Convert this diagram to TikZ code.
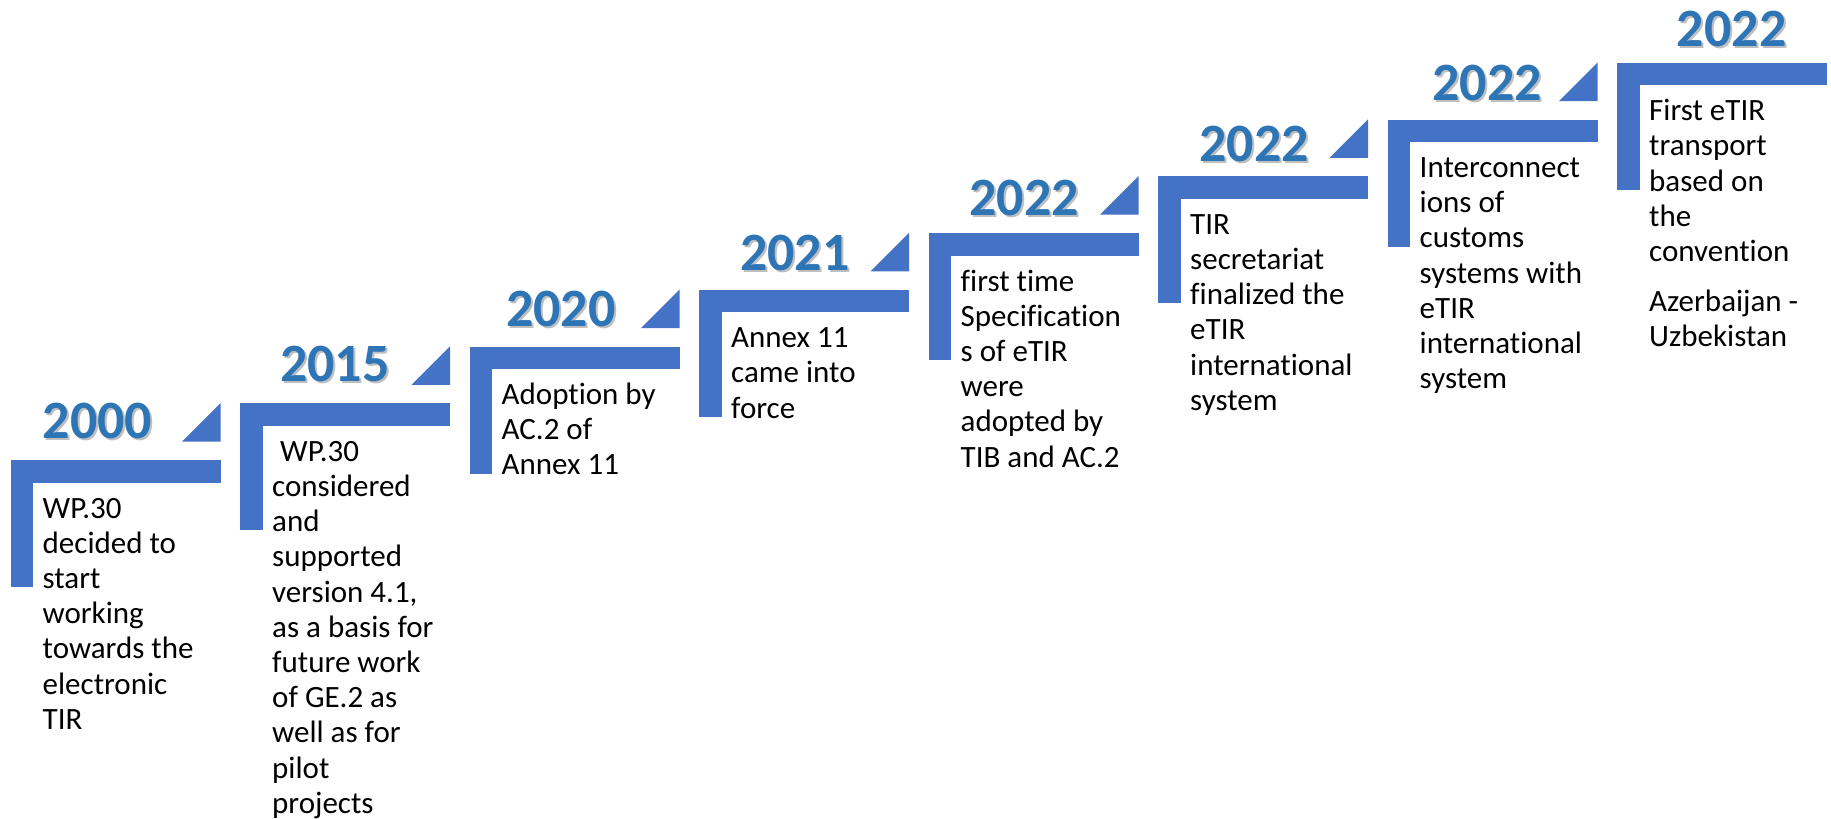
\documentclass[tikz,border=0pt]{standalone}
\usepackage{fontspec}
\setmainfont[Ligatures=NoCommon]{Carlito}
\definecolor{barblue}{HTML}{4472C4}
\definecolor{yearblue}{HTML}{2E75B6}
\tikzset{
  barfill/.style={fill=barblue, draw=none},
  yeartext/.style={anchor=base west, inner sep=0pt, outer sep=0pt, text=yearblue,
    font=\fontsize{54}{60}\selectfont\bfseries},
  yearshadow/.style={anchor=base west, inner sep=0pt, outer sep=0pt, text=black, opacity=0.25,
    font=\fontsize{54}{60}\selectfont\bfseries},
  bodytext/.style={anchor=base west, inner sep=0pt, outer sep=0pt, text=black,
    font=\fontsize{31}{35.2}\selectfont},
}
\newcommand{\tlstep}[5]{%
  \pgfmathsetmacro\tlbx{10.7+229.5*#1}%
  \pgfmathsetmacro\tlby{460-56.75*#1}%
  \fill[barfill] (\tlbx,\tlby) rectangle ++(210,22.5);
  \fill[barfill] (\tlbx,\tlby) rectangle ++(22.5,127);
  \node[yearshadow] (ys#1) at ({\tlbx+#2+2},{\tlby-#3+2}) {#4};
  \node[yeartext] (yr#1) at ({\tlbx+#2},{\tlby-#3}) {#4};
  \node[bodytext] (tx#1) at ({\tlbx+32},{\tlby+58}) {\parbox[t]{260pt}{\raggedright #5}};
}
\begin{document}
\begin{tikzpicture}[x=1pt,y=-1pt]
\useasboundingbox (0,0) rectangle (1831,819);
% triangles
\foreach \i in {0,...,6}{
  \pgfmathsetmacro\tlr{10.7+229.5*\i+210}
  \pgfmathsetmacro\tlb{460-56.75*\i-18.5}
  \fill[barfill] (\tlr,\tlb) -- ++(-38.5,0) -- ++(38.5,-38.5) -- cycle;
}
\tlstep{0}{32}{22}{2000}{WP.30\\decided to\\start\\working\\towards the\\electronic\\TIR}
\tlstep{1}{40}{21.5}{2015}{\hspace*{8pt}WP.30\\considered\\and\\supported\\version 4.1,\\as a basis for\\future work\\of GE.2 as\\well as for\\pilot\\projects}
\tlstep{2}{36.3}{20}{2020}{Adoption by\\AC.2 of\\Annex 11}
\tlstep{3}{40.8}{19}{2021}{Annex 11\\came into\\force}
\tlstep{4}{40.6}{18}{2022}{first time\\Specification\\s of eTIR\\were\\adopted by\\TIB and AC.2}
\tlstep{5}{41.1}{15}{2022}{TIR\\secretariat\\finalized the\\eTIR\\international\\system}
\tlstep{6}{44.7}{19.3}{2022}{Interconnect\\ions of\\customs\\systems with\\eTIR\\international\\system}
\tlstep{7}{59.7}{16}{2022}{First eTIR\\transport\\based on\\the\\convention\\[14.8pt]Azerbaijan -\\Uzbekistan}
\end{tikzpicture}
\end{document}
